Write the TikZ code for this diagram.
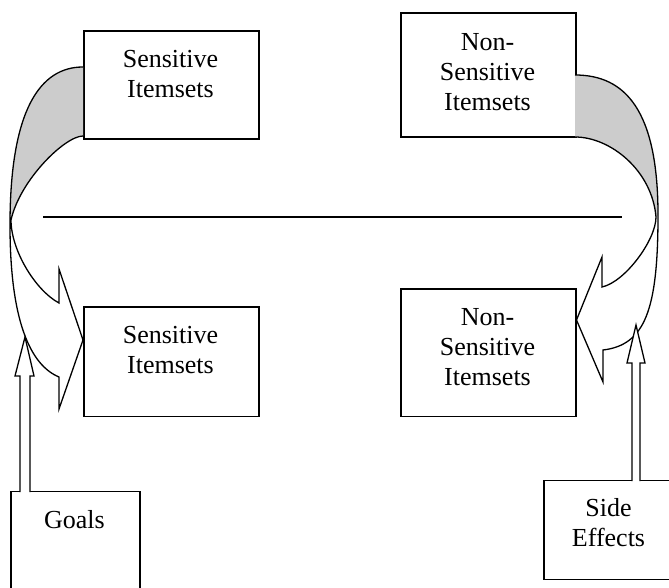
\documentclass[tikz,border=0pt]{standalone}
\usepackage{fontspec}
\setmainfont{Liberation Serif}
\begin{document}
\begin{tikzpicture}[x=1pt,y=1pt,line join=miter,
  box/.style={draw,line width=1.5pt,rectangle,anchor=south west,inner sep=0pt},
  lbl/.style={anchor=north,inner sep=0pt,align=center,font=\fontsize{26}{30}\selectfont},
  rib/.style={draw,line width=1.3pt},
  back/.style={fill=black!20,draw=none},
  hollow/.style={draw,line width=1.3pt,fill=white}]
\useasboundingbox (0,0) rectangle (669,587);
% boxes
\node[box,minimum width=175pt,minimum height=108pt] (tl) at (83,447) {};
\node[box,minimum width=175pt,minimum height=124pt] (tr) at (400,449) {};
\node[box,minimum width=175pt,minimum height=109pt] (bl) at (83,170) {};
\node[box,minimum width=175pt,minimum height=127pt] (br) at (400,170) {};
\node[box,minimum width=129pt,minimum height=108pt] (goals) at (10,-13) {};
\node[box,minimum width=131pt,minimum height=99pt] (side) at (543,7) {};
% texts
\node[lbl] (tlt) at (170.5,541) {\strut Sensitive\\\strut Itemsets};
\node[lbl] (blt) at (170.5,265) {\strut Sensitive\\\strut Itemsets};
\node[lbl] (trt) at (487.5,558) {\strut Non-\\\strut Sensitive\\\strut Itemsets};
\node[lbl] (brt) at (487.5,283) {\strut Non-\\\strut Sensitive\\\strut Itemsets};
\node[lbl] (goalst) at (74.5,80) {\strut Goals};
\node[lbl] (sidet) at (608.5,92) {\strut Side\\\strut Effects};
% horizontal line
\coordinate (h1) at (43,370);
\coordinate (h2) at (622,370);
\draw[line width=1.3pt] (h1) -- (h2);
% left curved arrow
\coordinate (la) at (83,520);
\coordinate (lb) at (83,451);
\path[back] (la) .. controls (40,520) and (10,477) .. (10,362) -- (11,367)
  .. controls (20,407) and (65,451) .. (lb) -- cycle;
\draw[rib] (la) .. controls (40,520) and (10,477) .. (10,362)
  .. controls (10,267) and (30,222) .. (59,210)
  -- (59,178) -- (bl.west |- 0,247) -- (59,318) -- (59,284)
  .. controls (35,297) and (11,337) .. (11,367)
  .. controls (20,407) and (65,451) .. (lb);
% right curved arrow
\coordinate (ra) at (575,512);
\coordinate (rb) at (575,450);
\path[back] (ra) .. controls (625,512) and (658,477) .. (658,372) -- (656,370)
  .. controls (652,417) and (610,450) .. (rb) -- cycle;
\draw[rib] (ra) .. controls (625,512) and (658,477) .. (658,372)
  .. controls (658,277) and (645,242) .. (603,237)
  -- (603,205) -- (br.east |- 0,267) -- (602,330) -- (602,300)
  .. controls (625,305) and (656,347) .. (656,370)
  .. controls (652,417) and (610,450) .. (rb);
% goals arrow
\coordinate (gt) at (25,250);
\draw[hollow] (20,95) -- (20,211) -- (15,211) -- (gt) -- (34,211) -- (30,211) -- (30,95);
% side effects arrow
\coordinate (st) at (636,262);
\draw[hollow] (632,106) -- (632,224) -- (627,224) -- (st) -- (645,224) -- (640,224) -- (640,106);
\end{tikzpicture}
\end{document}
